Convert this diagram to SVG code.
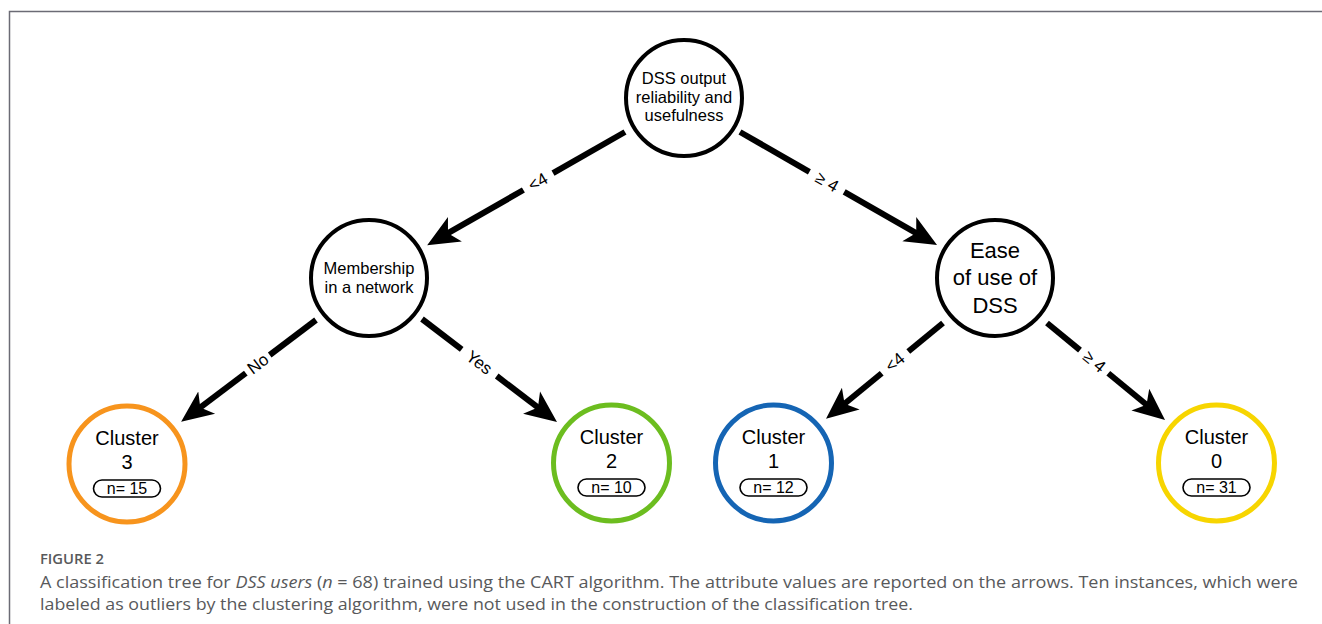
<svg xmlns="http://www.w3.org/2000/svg" width="1322" height="624" viewBox="0 0 1322 624">
<style>
.node{fill:#fff;stroke:#000;stroke-width:4}
.leaf{fill:#fff;stroke-width:5}
.t{font-family:"Liberation Sans",Arial,sans-serif;fill:#000;text-anchor:middle}
.lbl{font-family:"Liberation Sans",Arial,sans-serif;font-size:17px;fill:#000;text-anchor:middle;dominant-baseline:central}
.pill{fill:#fff;stroke:#000;stroke-width:1.6}
.conn line{stroke:#000;stroke-width:6}
.cap{font-family:"Open Sans","Noto Sans",sans-serif;fill:#58595b}
</style>
<defs>
<marker id="ah" markerUnits="userSpaceOnUse" markerWidth="34" markerHeight="32" viewBox="0 0 34 32" refX="12" refY="16" orient="auto">
<path d="M0,2 L32,16 L0,30 L8,16 Z" fill="#000"/>
</marker>
</defs>
<rect x="0" y="0" width="1322" height="624" fill="#fff"/>
<path d="M9.5,624 V11.5 H1322" fill="none" stroke="#6b6b75" stroke-width="1.5"/>

<g id="connectors" class="conn">
<line x1="625" y1="132" x2="553" y2="173.2"/>
<line x1="523.4" y1="190" x2="444.5" y2="235.2" marker-end="url(#ah)"/>
<text class="lbl" transform="translate(538,182) rotate(-29.7)">&lt;4</text>

<line x1="740" y1="132" x2="809.4" y2="171.8"/>
<line x1="844.2" y1="191.8" x2="919.7" y2="235.1" marker-end="url(#ah)"/>
<text class="lbl" transform="translate(827,182) rotate(29.8)">≥ 4</text>

<line x1="316" y1="320" x2="269.7" y2="355"/>
<line x1="245.8" y1="373.1" x2="197.1" y2="409.8" marker-end="url(#ah)"/>
<text class="lbl" transform="translate(258,364) rotate(-37)">No</text>

<line x1="422" y1="319" x2="461.7" y2="349.3"/>
<line x1="496.7" y1="376" x2="541.1" y2="409.9" marker-end="url(#ah)"/>
<text class="lbl" transform="translate(479,362.7) rotate(37.4)">Yes</text>

<line x1="943" y1="323" x2="908.3" y2="351.5"/>
<line x1="881.7" y1="373.3" x2="841.5" y2="406.2" marker-end="url(#ah)"/>
<text class="lbl" transform="translate(895,362.3) rotate(-39.4)">&lt;4</text>

<line x1="1047" y1="323" x2="1080" y2="350.1"/>
<line x1="1108.3" y1="373.3" x2="1149.6" y2="407.3" marker-end="url(#ah)"/>
<text class="lbl" transform="translate(1094.2,361.7) rotate(39.4)">≥ 4</text>
</g>

<g id="root">
<circle class="node" cx="684" cy="98" r="58"/>
<text class="t" font-size="16.5" x="684" y="84">DSS output</text>
<text class="t" font-size="16.5" x="684" y="103">reliability and</text>
<text class="t" font-size="16.5" x="684" y="121">usefulness</text>
</g>

<g id="membership">
<circle class="node" cx="369" cy="278" r="58"/>
<text class="t" font-size="16.5" x="369" y="274">Membership</text>
<text class="t" font-size="16.5" x="369" y="293">in a network</text>
</g>

<g id="ease">
<circle class="node" cx="995" cy="278" r="58"/>
<text class="t" font-size="22" x="995" y="258">Ease</text>
<text class="t" font-size="22" x="995" y="285">of use of</text>
<text class="t" font-size="22" x="995" y="313">DSS</text>
</g>

<g id="cluster3">
<circle class="leaf" stroke="#f7941d" cx="127" cy="464" r="58"/>
<text class="t" font-size="20" x="127" y="445">Cluster</text>
<text class="t" font-size="20" x="127" y="469">3</text>
<rect class="pill" x="93.5" y="480" width="67" height="17" rx="8.5"/>
<text class="t" font-size="16" x="127" y="494">n= 15</text>
</g>

<g id="cluster2">
<circle class="leaf" stroke="#6cbd1f" cx="611.5" cy="463" r="58"/>
<text class="t" font-size="20" x="611.5" y="444">Cluster</text>
<text class="t" font-size="20" x="611.5" y="468">2</text>
<rect class="pill" x="578" y="479" width="67" height="17" rx="8.5"/>
<text class="t" font-size="16" x="611.5" y="493">n= 10</text>
</g>

<g id="cluster1">
<circle class="leaf" stroke="#1565b4" cx="773.5" cy="463" r="58"/>
<text class="t" font-size="20" x="773.5" y="444">Cluster</text>
<text class="t" font-size="20" x="773.5" y="468">1</text>
<rect class="pill" x="740" y="479" width="67" height="17" rx="8.5"/>
<text class="t" font-size="16" x="773.5" y="493">n= 12</text>
</g>

<g id="cluster0">
<circle class="leaf" stroke="#f7d500" cx="1216.5" cy="463" r="58"/>
<text class="t" font-size="20" x="1216.5" y="444">Cluster</text>
<text class="t" font-size="20" x="1216.5" y="468">0</text>
<rect class="pill" x="1183" y="479" width="67" height="17" rx="8.5"/>
<text class="t" font-size="16" x="1216.5" y="493">n= 31</text>
</g>

<g id="caption">
<text class="cap" x="40" y="564" font-size="14" font-weight="600" textLength="64" lengthAdjust="spacingAndGlyphs">FIGURE 2</text>
<text class="cap" x="40" y="588" font-size="17" textLength="1258" lengthAdjust="spacingAndGlyphs">A classification tree for <tspan font-style="italic">DSS users</tspan> (<tspan font-style="italic">n</tspan> = 68) trained using the CART algorithm. The attribute values are reported on the arrows. Ten instances, which were</text>
<text class="cap" x="40" y="610" font-size="17" textLength="873" lengthAdjust="spacingAndGlyphs">labeled as outliers by the clustering algorithm, were not used in the construction of the classification tree.</text>
</g>
</svg>
